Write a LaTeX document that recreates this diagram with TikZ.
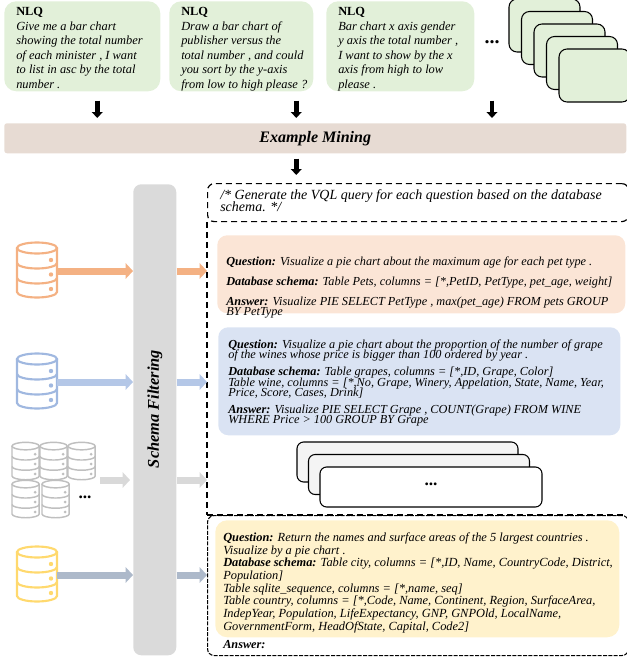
\documentclass[tikz,border=0pt]{standalone}
\usepackage{fontspec}
\setmainfont{Liberation Serif}
\usepackage{xcolor}
\usepackage{tikz}
\usetikzlibrary{positioning,arrows.meta}
\setlength{\lineskiplimit}{-5pt}

\definecolor{nlqgreen}{RGB}{226,240,217}
\definecolor{minetan}{RGB}{231,219,211}
\definecolor{filtergray}{RGB}{218,218,218}
\definecolor{petorange}{RGB}{251,229,214}
\definecolor{wineblue}{RGB}{218,227,243}
\definecolor{cityyellow}{RGB}{255,242,204}
\definecolor{arroworange}{RGB}{244,177,131}
\definecolor{arrowblue}{RGB}{180,199,231}
\definecolor{arrowgray}{RGB}{217,217,217}
\definecolor{arrowslate}{RGB}{173,185,202}
\definecolor{dbblue}{RGB}{160,184,224}
\definecolor{dbgray}{RGB}{191,191,191}
\definecolor{dbyellow}{RGB}{255,217,110}
\definecolor{stackgray}{RGB}{244,244,244}

% database icon: x, y (top left), scale, colour, name of its outlet
\newcommand{\database}[5]{%
\begin{scope}[shift={(#1,#2)}, scale=#3, line width={#3*1.6pt}]
\filldraw[#4, fill=white] (0,6) -- (0,50) arc (180:0:20 and 5.5) -- (40,6);
\filldraw[#4, fill=white] (20,6) ellipse (20 and 5.5);
\draw[#4] (0,21) arc (180:0:20 and 5.5);
\draw[#4] (0,36) arc (180:0:20 and 5.5);
\fill[#4] (34,18) circle (2.2);
\fill[#4] (34,32.5) circle (2.2);
\fill[#4] (34,47) circle (2.2);
\coordinate (#5) at (40,29);
\end{scope}}

\tikzset{
  panel/.style={anchor=north west, inner sep=0pt},
  nlqtext/.style={anchor=north west, inner sep=0pt, align=left,
    font=\itshape\fontsize{9.3}{10.9}\selectfont},
  shottext/.style={anchor=north west, inner sep=0pt, align=left,
    font=\itshape\fontsize{9.2}{7.9}\selectfont},
  framedash/.style={black, line width=0.9pt, dash pattern=on 4.5pt off 3pt},
  downarrow/.style={black, line width=3.4pt, -{Triangle[length=4.5pt,width=8pt]}},
  flow/.style={line width=5.25pt, -{Triangle[length=5.5pt,width=11.5pt]}}
}

\begin{document}
\begin{tikzpicture}[x=0.75pt, y=-0.75pt]
\useasboundingbox (0,0) rectangle (627,660);

% questions
\node[panel, fill=nlqgreen, rounded corners=9pt, minimum width=117pt, minimum height=67.5pt] (nlqa) at (4,1) {};
\node[panel, fill=nlqgreen, rounded corners=9pt, minimum width=108pt, minimum height=67.5pt] (nlqb) at (169,1) {};
\node[panel, fill=nlqgreen, rounded corners=9pt, minimum width=111pt, minimum height=67.5pt] (nlqc) at (326,1) {};
\node[nlqtext] (nlqatext) at (16,7) {{\upshape\bfseries NLQ}\\Give me a bar chart\\showing the total number\\of each minister , I want\\to list in asc by the total\\number .};
\node[nlqtext] (nlqbtext) at (181,7) {{\upshape\bfseries NLQ}\\Draw a bar chart of\\publisher versus the\\total number , and could\\you sort by the y-axis\\from low to high please ?};
\node[nlqtext] (nlqctext) at (338,7) {{\upshape\bfseries NLQ}\\Bar chart x axis gender\\y axis the total number ,\\I want to show by the x\\axis from high to low\\please .};
\node[font=\bfseries\fontsize{15}{15}\selectfont] (moreq) at (492,42) {...};
\filldraw[black, fill=nlqgreen, line width=0.8pt, rounded corners=6pt] (509,-1) rectangle (580,52);
\filldraw[black, fill=nlqgreen, line width=0.8pt, rounded corners=6pt] (521.5,11.5) rectangle (592.5,64.5);
\filldraw[black, fill=nlqgreen, line width=0.8pt, rounded corners=6pt] (534,24) rectangle (605,77);
\filldraw[black, fill=nlqgreen, line width=0.8pt, rounded corners=6pt] (546.5,36.5) rectangle (617.5,89.5);
\filldraw[black, fill=nlqgreen, line width=0.8pt, rounded corners=6pt] (559,49) rectangle (630,102);

% example mining
\node[panel, fill=minetan, rounded corners=2pt, minimum width=466.5pt, minimum height=22.5pt] (band) at (4,123) {};
\node[font=\bfseries\itshape\fontsize{12}{12}\selectfont] (bandtext) at (band.center) {Example Mining};
\draw[downarrow, shorten <=6.75pt, shorten >=3.75pt] ([xshift=11.25pt]nlqa.south) -- ([xshift=11.25pt]nlqa.south |- band.north);
\draw[downarrow, shorten <=6.75pt, shorten >=3.75pt] ([xshift=41.25pt]nlqb.south) -- ([xshift=41.25pt]nlqb.south |- band.north);
\draw[downarrow, shorten <=6.75pt, shorten >=3.75pt] (moreq |- nlqc.south) -- (moreq |- band.north);

% schema filtering
\node[panel, fill=filtergray, rounded corners=6pt, minimum width=32.25pt, minimum height=353.25pt] (bar) at (133,184) {};
\node[rotate=90, font=\bfseries\itshape\fontsize{12.3}{12.3}\selectfont] (bartext) at (155,409) {Schema Filtering};

% prompt
\node[panel, draw, framedash, rounded corners=5pt, minimum width=315.75pt, minimum height=28.5pt] (header) at (207,183) {};
\node[shottext, font=\itshape\fontsize{10.5}{9.2}\selectfont] (headertext) at (220,189) {/* Generate the VQL query for each question based on the database\\schema. */};
\draw[downarrow, shorten <=3.75pt, shorten >=6pt] ([xshift=-14.25pt]band.south) -- ([xshift=-14.25pt]band.south |- header.north);

\node[panel, fill=petorange, rounded corners=7.5pt, minimum width=306pt, minimum height=58.5pt] (petbox) at (217,235) {};
\node[shottext] (pettext) at (226,256.5) {\textbf{Question:} Visualize a pie chart about the maximum age for each pet type .\\[7pt]
\textbf{Database schema:} Table Pets, columns = [*,PetID, PetType, pet\_age, weight]\\[7pt]
\textbf{Answer:} Visualize PIE SELECT PetType , max(pet\_age) FROM pets GROUP\\
BY PetType};

\node[panel, fill=wineblue, rounded corners=7.5pt, minimum width=301.5pt, minimum height=81pt] (winebox) at (218,327) {};
\node[shottext] (winetext) at (228,339.5) {\textbf{Question:} Visualize a pie chart about the proportion of the number of grape\\
of the wines whose price is bigger than 100 ordered by year .\\[4.5pt]
\textbf{Database schema:} Table grapes, columns = [*,ID, Grape, Color]\\
Table wine, columns = [*,No, Grape, Winery, Appelation, State, Name, Year,\\
Price, Score, Cases, Drink]\\[4.5pt]
\textbf{Answer:} Visualize PIE SELECT Grape , COUNT(Grape) FROM WINE\\
WHERE Price > 100 GROUP BY Grape};

\filldraw[black, fill=stackgray, line width=0.8pt, rounded corners=5pt] (297,442) rectangle (518,482);
\filldraw[black, fill=stackgray, line width=0.8pt, rounded corners=5pt] (308.5,454.5) rectangle (529.5,494.5);
\filldraw[black, fill=white, line width=0.8pt, rounded corners=5pt] (320,467) rectangle (542,507);
\node[font=\bfseries\fontsize{13}{13}\selectfont] (moreshots) at (431,484) {...};

\node[panel, draw, black, line width=0.8pt, dash pattern=on 3pt off 1pt, rounded corners=5pt, minimum width=315.75pt, minimum height=105pt] (answerbox) at (207,515) {};
\draw[framedash] (header.south west) -- (answerbox.north west);
\draw[framedash] (answerbox.north west) -- (answerbox.north east);

\node[panel, fill=cityyellow, rounded corners=9pt, minimum width=303pt, minimum height=87.75pt] (citybox) at (215,520) {};
\node[shottext, font=\itshape\fontsize{9.3}{9.5}\selectfont] (citytext) at (223,532.5) {\textbf{Question:} Return the names and surface areas of the 5 largest countries .\\
Visualize by a pie chart .\\
\textbf{Database schema:} Table city, columns = [*,ID, Name, CountryCode, District,\\
Population]\\
Table sqlite\_sequence, columns = [*,name, seq]\\
Table country, columns = [*,Code, Name, Continent, Region, SurfaceArea,\\
IndepYear, Population, LifeExpectancy, GNP, GNPOld, LocalName,\\
GovernmentForm, HeadOfState, Capital, Code2]};
\node[shottext] (answertext) at (223,640.5) {\textbf{Answer:}};

% databases
\database{17}{242}{1}{arroworange}{dbpets}
\database{17}{353}{1}{dbblue}{dbwine}
\database{12}{442}{0.68}{dbgray}{dbma}
\database{40}{442}{0.68}{dbgray}{dbmb}
\database{68}{442}{0.68}{dbgray}{dbmc}
\database{12}{480}{0.68}{dbgray}{dbmd}
\database{42}{480}{0.68}{dbgray}{dbme}
\node[font=\bfseries\fontsize{13}{13}\selectfont] (moredb) at (85,497) {...};
\database{17}{546}{1}{dbyellow}{dbcity}
\coordinate (dbmany) at (100,480);

\draw[flow, arroworange] (dbpets) -- (bar.west |- dbpets);
\draw[flow, arroworange] (bar.east |- dbpets) -- (header.west |- dbpets);
\draw[flow, arrowblue] (dbwine) -- (bar.west |- dbwine);
\draw[flow, arrowblue] (bar.east |- dbwine) -- (header.west |- dbwine);
\draw[flow, arrowgray, shorten >=2.25pt] (dbmany) -- (bar.west |- dbmany);
\draw[flow, arrowgray] (bar.east |- dbmany) -- (header.west |- dbmany);
\draw[flow, arrowslate] (dbcity) -- (bar.west |- dbcity);
\draw[flow, arrowslate] (bar.east |- dbcity) -- (header.west |- dbcity);
\end{tikzpicture}
\end{document}
